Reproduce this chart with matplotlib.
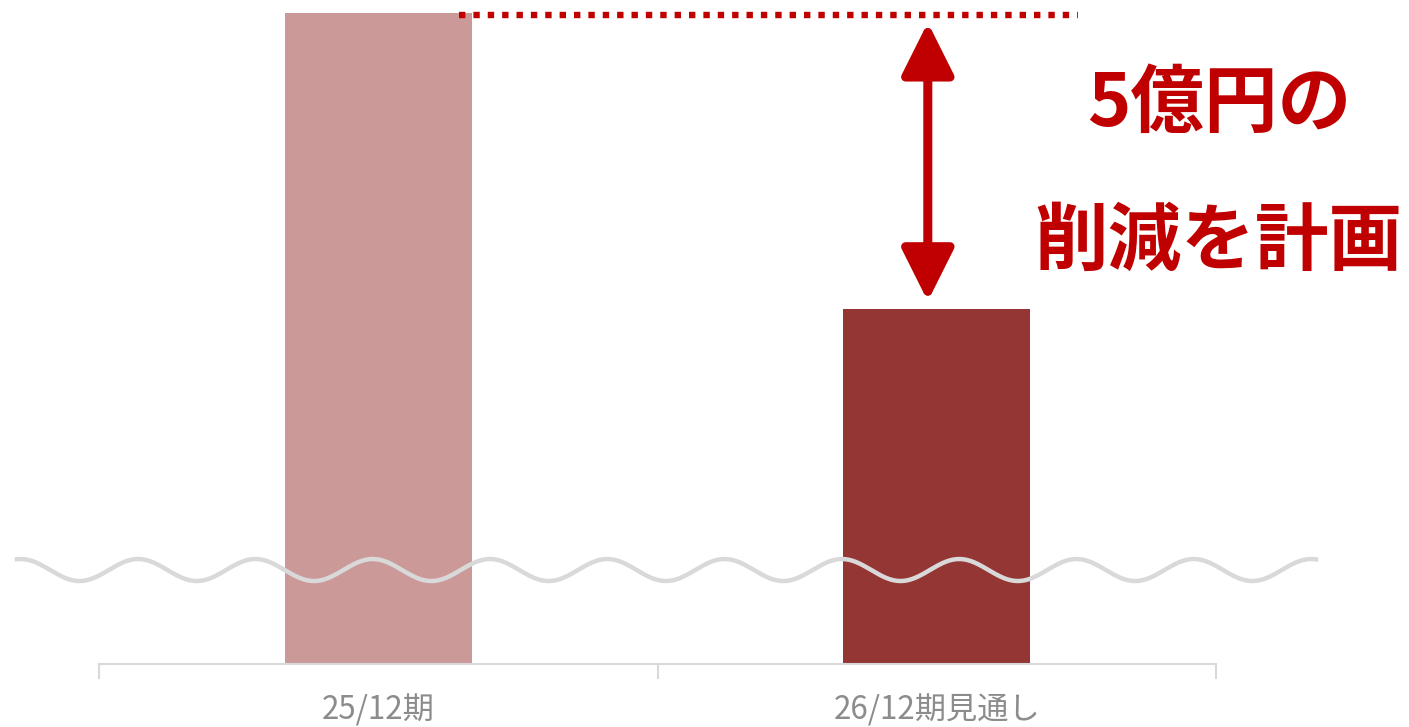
import numpy as np
import matplotlib
matplotlib.use('Agg')
import matplotlib.pyplot as plt

# data
categories = ['25/12期', '26/12期見通し']
values = [11.0, 6.0]           # shown above the axis break (units: 億円, offset)
bar_colors = ['#cc9999', '#943634']
note_lines = ['5億円の', '削減を計画']

RED = '#c00000'
GRID = '#d9d9d9'

plt.rcParams['font.family'] = ['Noto Sans CJK JP', 'DejaVu Sans']

W, H = 1409, 727
fig = plt.figure(figsize=(W / 100, H / 100), dpi=100)
# axes placed in pixel terms: x axis line at y=664, from x=99 to x=1216
ax = fig.add_axes([99 / W, (H - 664) / H, (1216 - 99) / W, 664 / H])

x = np.arange(len(categories))
bar_w = 0.335
ax.bar(x, values, width=bar_w, color=bar_colors, zorder=2)

ax.set_xlim(-0.5, len(categories) - 0.5)
ax.set_ylim(0, 11.22)

# axis styling
for side in ['top', 'right', 'left']:
    ax.spines[side].set_visible(False)
ax.spines['bottom'].set_color(GRID)
ax.spines['bottom'].set_linewidth(1.5)
ax.set_yticks([])
ax.set_xticks(x)
ax.set_xticklabels(categories, fontsize=22.5, color='#8c8c8c')
ax.tick_params(axis='x', which='major', length=0, pad=22)
ax.set_xticks(np.arange(len(categories) + 1) - 0.5, minor=True)
ax.tick_params(axis='x', which='minor', length=11, width=1.5, color=GRID)

# dotted reference line at the previous year's level
ax.plot([bar_w / 2 - 0.023, 1.253], [values[0] - 0.035] * 2, color=RED, lw=4.6,
        linestyle=(0, (1, 1.25)), dash_capstyle='butt', solid_capstyle='butt',
        zorder=3, clip_on=False)

# double-headed arrow showing the reduction
arrow_x = 0.984
ax.annotate('', xy=(arrow_x, values[0] - 0.16), xytext=(arrow_x, values[1] + 0.13),
            arrowprops=dict(arrowstyle='<|-|>,head_length=1.6,head_width=0.8',
                            color=RED, lw=6.5, shrinkA=0, shrinkB=0,
                            mutation_scale=20), zorder=4)

# annotation text
ax.text(1.505, 9.45, note_lines[0], color=RED, fontsize=53, fontweight='bold',
        ha='center', va='center')
ax.text(1.505, 7.12, note_lines[1], color=RED, fontsize=53, fontweight='bold',
        ha='center', va='center')

# wavy line marking the axis break
px = 117.3 / 558.5
wx = np.linspace(-0.647, 1.679, 800)
wy = 1.588 + 0.186 * np.cos(2 * np.pi * (wx + 0.640) / px)
ax.plot(wx, wy, color=GRID, lw=3.2, zorder=5, clip_on=False)

fig.savefig('out.png', dpi=100)
plt.close(fig)
